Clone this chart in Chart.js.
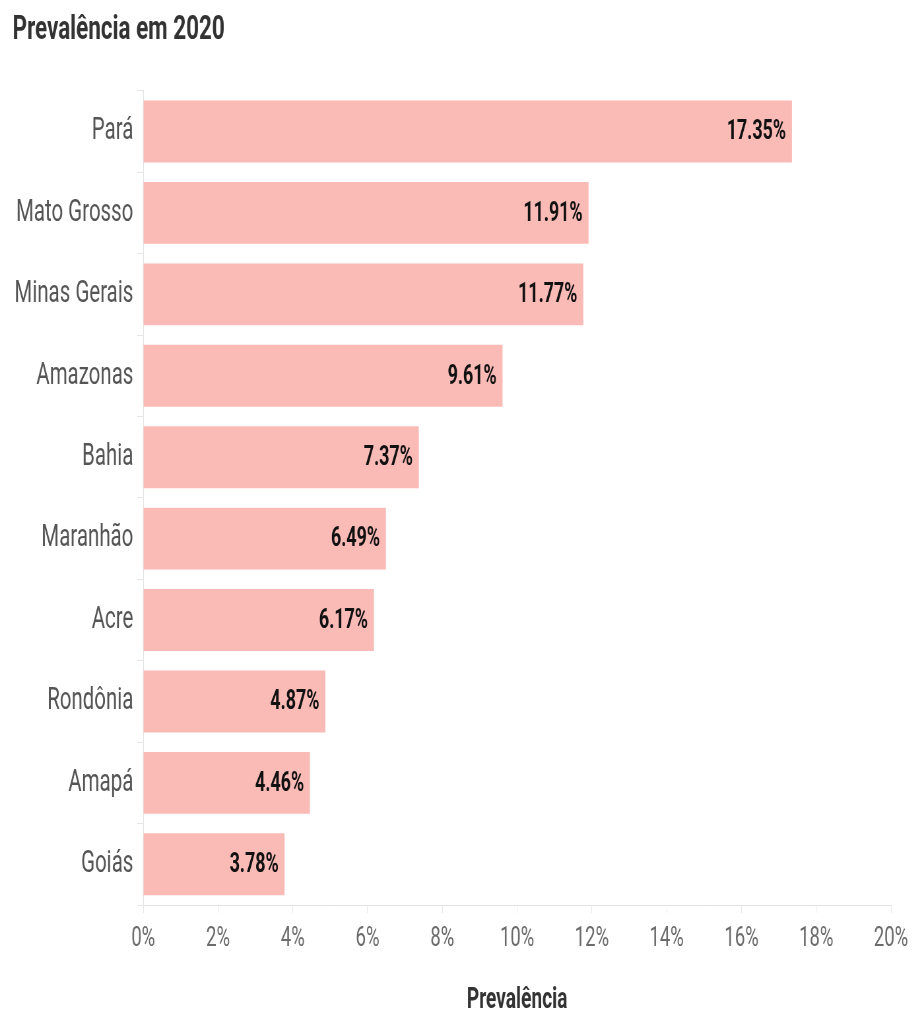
<!DOCTYPE html>
<html lang="pt-BR">
<head>
<meta charset="utf-8">
<title>Prevalência em 2020</title>
<script src="https://cdn.jsdelivr.net/npm/chart.js@4.4.1/dist/chart.umd.min.js"></script>
<style>
    html, body { margin: 0; padding: 0; background: #fff; overflow: hidden; }
    /* the chart is laid out wide and squeezed horizontally to get the narrow type */
    #wrap { width: 1385px; height: 1009px; transform: scaleX(0.66); transform-origin: 0 0; }
</style>
</head>
<body>
<div id="wrap"><canvas id="prevalenceChart"></canvas></div>
<script>
const states = ['Pará', 'Mato Grosso', 'Minas Gerais', 'Amazonas', 'Bahia', 'Maranhão', 'Acre', 'Rondônia', 'Amapá', 'Goiás'];
const prevalence = [17.35, 11.91, 11.77, 9.61, 7.37, 6.49, 6.17, 4.87, 4.46, 3.78];
const xTickValues = [0, 2, 4, 6, 8, 10, 12, 14, 16, 18, 20];

const FONT = 'Roboto, "Liberation Sans", sans-serif';
const LEFT_PAD = 19;

// percentage written at the end of each bar
const barValueLabels = {
    id: 'barValueLabels',
    afterDatasetsDraw(chart) {
        const ctx = chart.ctx;
        const meta = chart.getDatasetMeta(0);
        ctx.save();
        ctx.font = 'bold 27px ' + FONT;
        ctx.fillStyle = '#111';
        ctx.textAlign = 'right';
        ctx.textBaseline = 'middle';
        meta.data.forEach((bar, i) => {
            ctx.fillText(prevalence[i].toFixed(2) + '%', bar.x - 9, bar.y + 1);
        });
        ctx.restore();
    }
};

new Chart(document.getElementById('prevalenceChart'), {
    type: 'bar',
    data: {
        labels: states,
        datasets: [{
            label: 'Prevalência',
            data: prevalence,
            backgroundColor: '#fabab6',
            borderWidth: 0,
            barPercentage: 0.76,
            categoryPercentage: 1
        }]
    },
    options: {
        indexAxis: 'y',
        responsive: true,
        maintainAspectRatio: false,
        animation: false,
        layout: {
            padding: { left: LEFT_PAD, right: 33, top: 0, bottom: 0 }
        },
        scales: {
            x: {
                min: 0,
                max: 20,
                afterBuildTicks(scale) {
                    scale.ticks = xTickValues.map(v => ({ value: v }));
                },
                ticks: {
                    callback: v => v + '%',
                    color: '#6b6b6b',
                    font: { family: FONT, size: 28 },
                    padding: 9,
                    maxRotation: 0
                },
                grid: {
                    drawOnChartArea: false,
                    drawTicks: true,
                    tickLength: 8,
                    color: '#e6e6e6'
                },
                border: { color: '#e2e2e2', width: 1 },
                title: {
                    display: true,
                    text: 'Prevalência',
                    color: '#333',
                    font: { family: FONT, size: 29, weight: 'bold', lineHeight: 0.6 },
                    padding: { top: 27, bottom: 0 }
                }
            },
            y: {
                afterFit(scale) {
                    scale.width = 217 - LEFT_PAD;
                },
                ticks: {
                    color: '#555',
                    font: { family: FONT, size: 31 },
                    padding: 6
                },
                grid: {
                    drawOnChartArea: false,
                    drawTicks: true,
                    tickLength: 9,
                    color: '#e6e6e6'
                },
                border: { color: '#e2e2e2', width: 1 }
            }
        },
        plugins: {
            legend: { display: false },
            tooltip: { enabled: false },
            title: {
                display: true,
                text: 'Prevalência em 2020',
                align: 'start',
                color: '#333',
                font: { family: FONT, size: 34, weight: 'bold', lineHeight: 1.2 },
                padding: { top: 10, bottom: 40 }
            }
        }
    },
    plugins: [barValueLabels]
});
</script>
</body>
</html>
